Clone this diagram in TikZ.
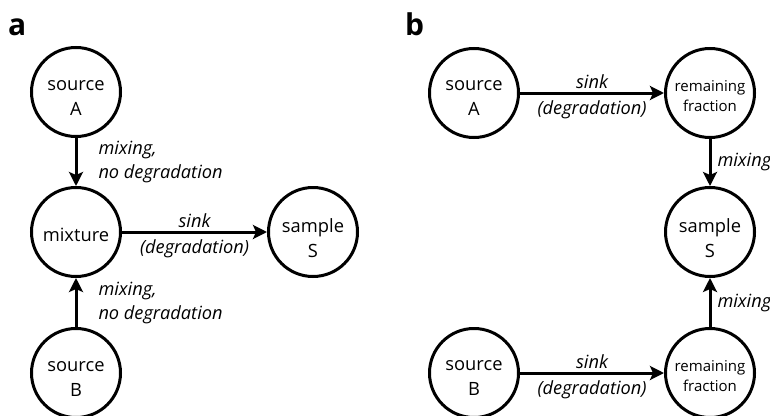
\documentclass[tikz,border=0pt]{standalone}
\usepackage{fontspec}
\setmainfont{Open Sans}
\usetikzlibrary{arrows.meta}
\begin{document}
\begin{tikzpicture}[x=1pt,y=-1pt,
  state/.style={circle,draw,line width=3pt,minimum size=89pt,inner sep=0pt},
  bigtext/.style 2 args={label={[font=\fontsize{18.3}{25}\selectfont,align=center,yshift=#2]center:#1}},
  smalltext/.style={label={[font=\fontsize{15}{20.5}\selectfont,align=center,yshift=-3pt]center:#1}},
  flow/.style={line width=3pt,-{Stealth[length=14pt,width=14pt,inset=3pt]}},
  lab/.style={font=\fontsize{18.2}{24}\selectfont\itshape,inner sep=0pt,align=left},
  panel/.style={font=\fontsize{30}{30}\selectfont\bfseries,anchor=base west,inner sep=0pt}]
\useasboundingbox (0,0) rectangle (770,415);
% panel a
\node[panel] (pa) at (8,35) {a};
\node[state,bigtext={source\\A}{-6pt}] (sA) at (76,92) {};
\node[state,bigtext={mixture}{-3pt}] (mix) at (76,232) {};
\node[state,bigtext={source\\B}{-6pt}] (sB) at (76,373) {};
\node[state,bigtext={sample\\S}{-6pt}] (S) at (313,232) {};
\draw[flow] (sA) -- node[lab,anchor=west,xshift=21pt] {mixing,\\no degradation} (mix);
\draw[flow] (sB) -- node[lab,anchor=west,xshift=21pt] {mixing,\\no degradation} (mix);
\draw[flow] (mix) -- node[lab,anchor=base,yshift=5pt] {sink} node[lab,anchor=north,yshift=-6pt] {(degradation)} (S);
% panel b
\node[panel] (pb) at (405,35) {b};
\node[state,bigtext={source\\A}{-5pt}] (sA2) at (474,93) {};
\node[state,smalltext={remaining\\fraction}] (RA) at (710,93) {};
\node[state,bigtext={sample\\S}{-6pt}] (S2) at (710,232) {};
\node[state,smalltext={remaining\\fraction}] (RB) at (710,373) {};
\node[state,bigtext={source\\B}{-5pt}] (sB2) at (474,373) {};
\draw[flow] (sA2) -- node[lab,anchor=base,yshift=5pt] {sink} node[lab,anchor=north,yshift=-6pt] {(degradation)} (RA);
\draw[flow] (sB2) -- node[lab,anchor=base,yshift=5pt] {sink} node[lab,anchor=north,yshift=-6pt] {(degradation)} (RB);
\draw[flow] (RA) -- node[lab,anchor=west,xshift=6pt] {mixing} (S2);
\draw[flow] (RB) -- node[lab,anchor=west,xshift=6pt] {mixing} (S2);
\end{tikzpicture}
\end{document}
